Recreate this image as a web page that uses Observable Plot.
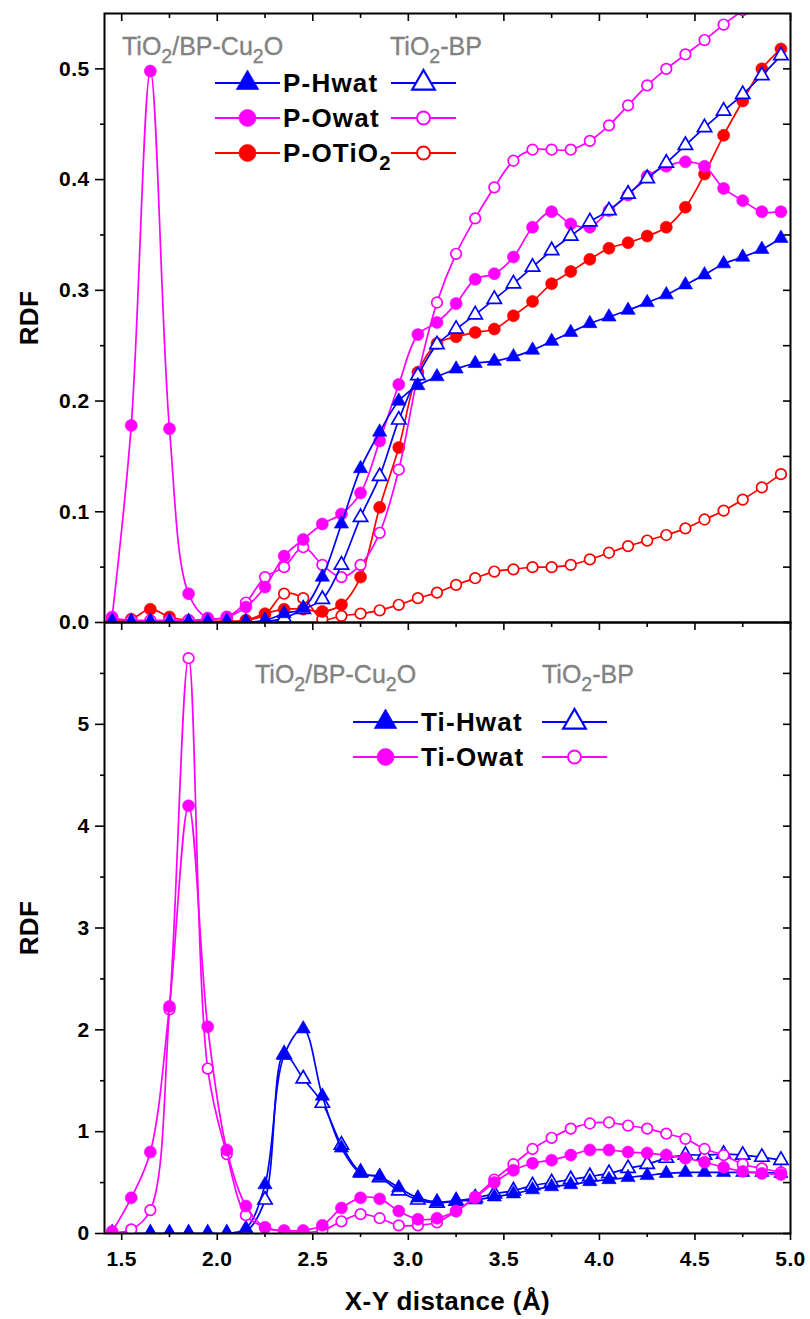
<!DOCTYPE html>
<html><head><meta charset="utf-8">
<script src="https://cdn.jsdelivr.net/npm/d3@7"></script>
<script src="https://cdn.jsdelivr.net/npm/@observablehq/plot@0.6"></script>
<style>
body{margin:0;background:#fff;}
#wrap{position:relative;width:810px;height:1319px;overflow:hidden;}
#wrap svg{position:absolute;left:0;overflow:visible;}
</style></head><body><div id="wrap"></div>
<script>
// ---------- data ----------
const xs = [1.45,1.55,1.65,1.75,1.85,1.95,2.05,2.15,2.25,2.35,2.45,2.55,2.65,2.75,2.85,2.95,3.05,3.15,3.25,3.35,3.45,3.55,3.65,3.75,3.85,3.95,4.05,4.15,4.25,4.35,4.45,4.55,4.65,4.75,4.85,4.95];

// top panel (P-X RDF)
const pHwatCu2O = [0,0,0,0,0,0,0,0,0.002,0.008,0.013,0.041,0.089,0.139,0.172,0.2,0.214,0.222,0.229,0.234,0.236,0.24,0.246,0.254,0.262,0.27,0.276,0.282,0.289,0.296,0.305,0.314,0.324,0.33,0.337,0.347];
const pHwatBP   = [0,0,0,0,0,0,0,0,0.001,0.004,0.012,0.021,0.052,0.095,0.132,0.183,0.223,0.251,0.265,0.278,0.292,0.306,0.321,0.336,0.349,0.362,0.372,0.387,0.401,0.415,0.431,0.447,0.462,0.477,0.494,0.512];
const pOwatCu2O = [0.005,0.178,0.498,0.175,0.026,0.004,0.005,0.014,0.032,0.06,0.075,0.089,0.098,0.117,0.164,0.215,0.26,0.271,0.288,0.31,0.315,0.33,0.357,0.371,0.36,0.357,0.372,0.386,0.403,0.412,0.416,0.412,0.392,0.381,0.371,0.371];
const pOwatBP   = [0.004,0.002,0.002,0.002,0.002,0.003,0.005,0.018,0.041,0.05,0.068,0.052,0.041,0.052,0.081,0.138,0.223,0.289,0.333,0.365,0.393,0.417,0.427,0.427,0.427,0.435,0.449,0.467,0.485,0.5,0.513,0.526,0.54,0.553,0.568,0.582];
const pOTiO2Cu2O = [0.002,0.003,0.012,0.005,0.002,0.001,0.001,0.002,0.008,0.012,0.012,0.01,0.016,0.041,0.104,0.158,0.226,0.252,0.258,0.262,0.265,0.277,0.29,0.306,0.317,0.328,0.338,0.343,0.349,0.357,0.375,0.405,0.44,0.471,0.5,0.518];
const pOTiO2BP   = [0.001,0.001,0.001,0.001,0.001,0.001,0.001,0.002,0.007,0.026,0.022,0.003,0.006,0.008,0.011,0.016,0.022,0.027,0.034,0.04,0.046,0.048,0.05,0.05,0.052,0.057,0.063,0.069,0.074,0.079,0.085,0.093,0.101,0.111,0.122,0.134];

// bottom panel (Ti-X RDF)
const tiHwatCu2O = [0,0,0,0,0,0,0,0.05,0.48,1.75,2.01,1.35,0.84,0.59,0.56,0.45,0.35,0.31,0.32,0.33,0.36,0.39,0.43,0.46,0.48,0.51,0.53,0.55,0.57,0.59,0.6,0.6,0.6,0.6,0.6,0.59];
const tiHwatBP   = [0,0,0,0,0,0,0,0.02,0.33,1.76,1.52,1.28,0.87,0.6,0.55,0.42,0.33,0.3,0.32,0.35,0.39,0.42,0.47,0.5,0.53,0.56,0.59,0.64,0.68,0.74,0.77,0.77,0.78,0.77,0.75,0.72];
const tiOwatCu2O = [0.02,0.35,0.8,2.23,4.2,2.03,0.82,0.27,0.06,0.03,0.03,0.08,0.25,0.35,0.34,0.22,0.14,0.15,0.22,0.35,0.5,0.62,0.69,0.72,0.77,0.82,0.82,0.8,0.79,0.77,0.74,0.7,0.65,0.61,0.59,0.58];
const tiOwatBP   = [0.01,0.04,0.23,2.2,5.65,1.62,0.78,0.18,0.06,0.02,0.01,0.03,0.12,0.19,0.15,0.08,0.08,0.11,0.22,0.36,0.53,0.68,0.83,0.94,1.03,1.08,1.09,1.06,1.03,0.98,0.93,0.83,0.77,0.68,0.64,0.6];

// ticks & labels
const xMajorTicks = [1.5,2.0,2.5,3.0,3.5,4.0,4.5,5.0];
const xMinorTicks = [1.75,2.25,2.75,3.25,3.75,4.25,4.75];
const topYMajor = [0,0.1,0.2,0.3,0.4,0.5];
const topYMinor = [0.05,0.15,0.25,0.35,0.45];
const botYMajor = [0,1,2,3,4,5];
const botYMinor = [0.5,1.5,2.5,3.5,4.5,5.5];
const groupTitles = ["TiO_2/BP-Cu_2O", "TiO_2-BP"];
const topSeriesNames = ["P-Hwat","P-Owat","P-OTiO_2"];
const botSeriesNames = ["Ti-Hwat","Ti-Owat"];
const yTitle = "RDF";
const xTitle = "X-Y distance (Å)";

// ---------- style ----------
const BLUE="#0000ff", MAG="#ff00ff", RED="#ff0000";
const FONT = "'Liberation Sans', Arial, Helvetica, sans-serif";
const W=810, ML=104, MR=20;
const plotW = W-ML-MR;
const svgStyle = {background: "transparent", fontFamily: FONT, fontWeight: "bold", fontSize: "21px", letterSpacing: "0.4px", color: "black", overflow: "visible"};

function series(ys, color, symbol, filled) {
  const data = xs.map((x,i)=>({x, y: ys[i]}));
  const r = symbol==="triangle" ? 5.3 : (filled ? 6 : 5.3);
  return [
    Plot.line(data, {x:"x", y:"y", stroke: color, strokeWidth: 1.7, curve: "catmull-rom", clip: true}),
    Plot.dot(data, {x:"x", y:"y", symbol, r, fill: filled ? color : "white", stroke: color, strokeWidth: filled ? 0.6 : 1.7, clip: true})
  ];
}

function frameTicks(yMajor, yMinor, plotH) {
  return [
    Plot.ruleY(yMajor.concat(yMinor), {y: d=>d, stroke:"black", strokeWidth:1.6, insetLeft: plotW-7}),
    Plot.ruleX(xMajorTicks, {x: d=>d, stroke:"black", strokeWidth:1.6, insetBottom: plotH-8}),
    Plot.ruleX(xMinorTicks, {x: d=>d, stroke:"black", strokeWidth:1.6, insetBottom: plotH-5})
  ];
}

const wrap = document.getElementById("wrap");

// ---------- top panel ----------
const topH = 640, topMT = 13, topMB = 18;
const topPlotH = topH-topMT-topMB;
const topPlot = Plot.plot({
  width: W, height: topH,
  marginLeft: ML, marginRight: MR, marginTop: topMT, marginBottom: topMB,
  style: svgStyle,
  x: {domain: [1.41, 5.0], axis: null},
  y: {domain: [0, 0.55], axis: null},
  marks: [
    Plot.axisY({ticks: topYMajor, tickFormat: ".1f", tickSize: 9, tickPadding: 6, strokeWidth: 1.6, label: null}),
    Plot.axisY({ticks: topYMinor, tickFormat: () => "", tickSize: 4, strokeWidth: 1.6, label: null}),
    ...frameTicks(topYMajor, topYMinor, topPlotH),
    Plot.text([yTitle], {frameAnchor: "left", dx: -75, rotate: -90, textAnchor: "middle", fontSize: 26, fontWeight: "bold"}),
    ...series(pOTiO2BP, RED, "circle", false),
    ...series(pOTiO2Cu2O, RED, "circle", true),
    ...series(pOwatBP, MAG, "circle", false),
    ...series(pOwatCu2O, MAG, "circle", true),
    ...series(pHwatBP, BLUE, "triangle", false),
    ...series(pHwatCu2O, BLUE, "triangle", true),
    Plot.frame({stroke: "black", strokeWidth: 2})
  ]
});

// ---------- bottom panel ----------
const botTop = 600;
const botH = 719, botMT = 22, botMB = 86;
const botPlotH = botH-botMT-botMB;
const bottomPlot = Plot.plot({
  width: W, height: botH,
  marginLeft: ML, marginRight: MR, marginTop: botMT, marginBottom: botMB,
  style: svgStyle,
  x: {domain: [1.41, 5.0], axis: null},
  y: {domain: [0, 6], axis: null},
  marks: [
    Plot.axisY({ticks: botYMajor, tickFormat: d=>String(d), tickSize: 9, tickPadding: 6, strokeWidth: 1.6, label: null}),
    Plot.axisY({ticks: botYMinor, tickFormat: () => "", tickSize: 4, strokeWidth: 1.6, label: null}),
    Plot.axisX({ticks: xMajorTicks, tickFormat: ".1f", tickSize: 7, tickPadding: 11, strokeWidth: 1.6, label: null}),
    Plot.axisX({ticks: xMinorTicks, tickFormat: () => "", tickSize: 4, strokeWidth: 1.6, label: null}),
    ...frameTicks(botYMajor, botYMinor, botPlotH),
    Plot.text([yTitle], {frameAnchor: "left", dx: -75, rotate: -90, textAnchor: "middle", fontSize: 26, fontWeight: "bold"}),
    Plot.text([xTitle], {frameAnchor: "bottom", dy: 68, textAnchor: "middle", lineAnchor: "middle", fontSize: 26, fontWeight: "bold"}),
    ...series(tiHwatBP, BLUE, "triangle", false),
    ...series(tiHwatCu2O, BLUE, "triangle", true),
    ...series(tiOwatBP, MAG, "circle", false),
    ...series(tiOwatCu2O, MAG, "circle", true),
    Plot.frame({stroke: "black", strokeWidth: 2})
  ]
});

bottomPlot.style.top = botTop + "px";
topPlot.style.top = "0px";
wrap.appendChild(bottomPlot);
wrap.appendChild(topPlot);

// ---------- legends ----------
function rich(textSel, str, size) {
  const tokens = []; let buf = "";
  for (let i = 0; i < str.length; i++) {
    if (str[i] === "_") { if (buf) tokens.push([buf,false]); buf = ""; tokens.push([str[i+1], true]); i++; }
    else buf += str[i];
  }
  if (buf) tokens.push([buf,false]);
  let prevSub = false;
  for (const [t, sub] of tokens) {
    const ts = textSel.append("tspan").text(t);
    if (sub) { ts.attr("font-size", size*0.78).attr("dy", size*0.32); prevSub = true; }
    else if (prevSub) { ts.attr("dy", -size*0.32); prevSub = false; }
  }
}
function marker(g, cx, cy, color, symbol, filled) {
  if (symbol === "triangle") {
    const r = 8.4;
    g.append("path").attr("d", d3.symbol(d3.symbolTriangle, Math.PI*r*r)())
      .attr("transform", `translate(${cx},${cy})`)
      .attr("fill", filled ? color : "white").attr("stroke", color).attr("stroke-width", filled ? 0.6 : 2.2);
  } else {
    g.append("circle").attr("cx", cx).attr("cy", cy).attr("r", filled ? 8.5 : 6.5)
      .attr("fill", filled ? color : "white").attr("stroke", color).attr("stroke-width", filled ? 0.6 : 2);
  }
}
function legend(svg, spec) {
  const g = d3.select(svg).append("g").attr("font-family", FONT).attr("text-anchor", "start");
  spec.titles.forEach((t, i) => {
    const tx = g.append("text").attr("x", spec.titleX[i]).attr("y", spec.titleY)
      .attr("fill", "#828282").attr("font-size", spec.titleSize).attr("font-weight", "normal")
      .attr("letter-spacing", "0px").attr("stroke", "#828282").attr("stroke-width", 0.35);
    rich(tx, t, spec.titleSize);
  });
  spec.rows.forEach(row => {
    [[spec.fx, true], [spec.ox, false]].forEach(([x0, filled]) => {
      g.append("line").attr("x1", x0).attr("x2", x0+65).attr("y1", row.y).attr("y2", row.y)
        .attr("stroke", row.color).attr("stroke-width", 1.8);
      marker(g, x0+32.5, row.y, row.color, row.symbol, filled);
    });
    const tx = g.append("text").attr("x", spec.fx+68).attr("y", row.y+9)
      .attr("fill", "black").attr("font-size", spec.textSize).attr("font-weight", "bold")
      .attr("letter-spacing", "1.2px");
    rich(tx, row.label, spec.textSize);
  });
}
legend(topPlot, {
  titles: groupTitles, titleX: [122, 390], titleY: 55, titleSize: 25, textSize: 26,
  fx: 215, ox: 391,
  rows: [
    {label: topSeriesNames[0], color: BLUE, symbol: "triangle", y: 83},
    {label: topSeriesNames[1], color: MAG, symbol: "circle", y: 118},
    {label: topSeriesNames[2], color: RED, symbol: "circle", y: 153}
  ]
});
legend(bottomPlot, {
  titles: groupTitles, titleX: [255, 542], titleY: 683-botTop, titleSize: 25, textSize: 26,
  fx: 353, ox: 542,
  rows: [
    {label: botSeriesNames[0], color: BLUE, symbol: "triangle", y: 722-botTop},
    {label: botSeriesNames[1], color: MAG, symbol: "circle", y: 757-botTop}
  ]
});
</script>
</body></html>
